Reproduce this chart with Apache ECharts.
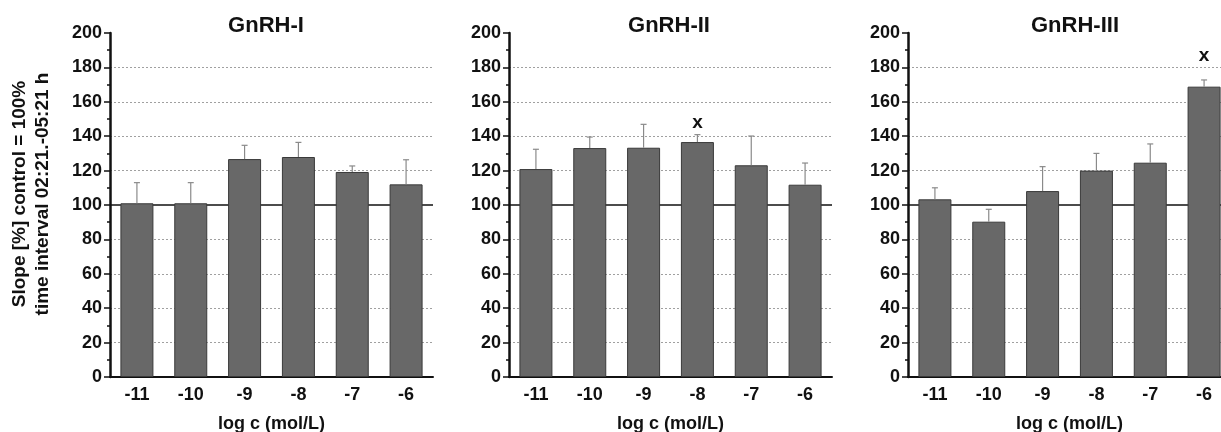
<!DOCTYPE html>
<html>
<head>
<meta charset="utf-8">
<script src="https://cdn.jsdelivr.net/npm/echarts@6/dist/echarts.min.js"></script>
<style>
  html, body { margin: 0; padding: 0; background: #fff; overflow: hidden; }
  #chart { width: 1221px; height: 432px; }
</style>
</head>
<body>
<div id="chart"></div>
<script>
// log concentration categories
var concentrations = ['-11', '-10', '-9', '-8', '-7', '-6'];
var yTicks = [0, 20, 40, 60, 80, 100, 120, 140, 160, 180, 200];

// slope in % of control, mean and upper error
var gnrh1Mean = [101, 101, 126.7, 127.9, 119.2, 112];
var gnrh1Err  = [12, 12, 8, 8.5, 3.5, 14.3];
var gnrh2Mean = [120.9, 133.1, 133.3, 136.6, 123.1, 111.8];
var gnrh2Err  = [11.5, 6.4, 13.6, 4.3, 17, 12.6];
var gnrh3Mean = [103.3, 90.3, 108.1, 120, 124.6, 168.8];
var gnrh3Err  = [6.7, 7.2, 14.2, 10, 10.9, 3.9];

// significance marks
var gnrh1Sig = ['', '', '', '', '', ''];
var gnrh2Sig = ['', '', '', 'x', '', ''];
var gnrh3Sig = ['', '', '', '', '', 'x'];

var FONT = 'Liberation Sans, Arial, sans-serif';
var panels = [
  { title: 'GnRH-I',   mean: gnrh1Mean, err: gnrh1Err, sig: gnrh1Sig, left: 110, titleX: 261, sigGap: 14 },
  { title: 'GnRH-II',  mean: gnrh2Mean, err: gnrh2Err, sig: gnrh2Sig, left: 509, titleX: 664, sigGap: 12 },
  { title: 'GnRH-III', mean: gnrh3Mean, err: gnrh3Err, sig: gnrh3Sig, left: 908, titleX: 1070, sigGap: 24 }
];

// dotted grid, but none at 100 (solid reference line) and none at 200
var gridColors = yTicks.map(function (v) {
  return (v === 100 || v === 200 || v === 0) ? 'rgba(0,0,0,0)' : '#a0a0a0';
});

var grids = [], xAxes = [], yAxes = [], titles = [], series = [];

panels.forEach(function (p, i) {
  grids.push({ left: p.left, top: 33, width: 323, height: 344, outerBoundsMode: 'none' });
  titles.push({
    text: p.title, left: p.titleX, top: 10, textAlign: 'center',
    textStyle: { fontFamily: FONT, fontSize: 22, fontWeight: 'bold', color: '#111' }
  });
  xAxes.push({
    type: 'category', gridIndex: i, data: concentrations,
    name: 'log c (mol/L)', nameLocation: 'middle', nameGap: 38,
    nameTextStyle: { fontFamily: FONT, fontSize: 18, fontWeight: 'bold', color: '#111' },
    axisLine: { lineStyle: { color: '#111', width: 2 } },
    axisTick: { alignWithLabel: true, length: 5, lineStyle: { color: '#111', width: 2 } },
    axisLabel: { margin: 9, fontFamily: FONT, fontSize: 18, fontWeight: 'bold', color: '#111' }
  });
  yAxes.push({
    type: 'value', gridIndex: i, min: 0, max: 200, interval: 20,
    axisLine: { show: true, lineStyle: { color: '#111', width: 2.5 } },
    axisTick: { show: true, length: 6, lineStyle: { color: '#111', width: 1.5 } },
    minorTick: { show: true, splitNumber: 2, length: 3, lineStyle: { color: '#111', width: 1.5 } },
    axisLabel: { margin: 8, fontFamily: FONT, fontSize: 18, fontWeight: 'bold', color: '#111' },
    splitLine: { show: true, lineStyle: { color: gridColors, type: [2, 2], width: 1 } }
  });

  series.push({
    type: 'bar', xAxisIndex: i, yAxisIndex: i, data: p.mean, barWidth: 33, z: 3,
    itemStyle: { color: '#686868', borderColor: '#3a3a3a', borderWidth: 1 },
    markLine: {
      silent: true, symbol: 'none', z: 1, label: { show: false },
      lineStyle: { color: '#111', width: 1.5, type: 'solid' },
      data: [{ yAxis: 100 }]
    }
  });

  series.push({
    type: 'custom', xAxisIndex: i, yAxisIndex: i, z: 4,
    data: p.mean.map(function (m, k) { return [k, m, p.err[k]]; }),
    renderItem: function (params, api) {
      var base = api.coord([api.value(0), api.value(1)]);
      var top = api.coord([api.value(0), api.value(1) + api.value(2)]);
      var s = { stroke: '#8a8a8a', lineWidth: 1.2 };
      return {
        type: 'group',
        children: [
          { type: 'line', shape: { x1: base[0], y1: base[1], x2: top[0], y2: top[1] }, style: s },
          { type: 'line', shape: { x1: top[0] - 3, y1: top[1], x2: top[0] + 3, y2: top[1] }, style: s }
        ]
      };
    }
  });

  series.push({
    type: 'custom', xAxisIndex: i, yAxisIndex: i, z: 5,
    data: p.sig.map(function (t, k) { return [k, p.mean[k] + p.err[k], t]; }),
    renderItem: function (params, api) {
      var pt = api.coord([api.value(0), api.value(1)]);
      var txt = p.sig[params.dataIndex];
      return {
        type: 'text', x: pt[0], y: pt[1] - p.sigGap,
        style: { text: txt, align: 'center', verticalAlign: 'middle',
                 font: 'bold 19px ' + FONT, fill: '#111' }
      };
    }
  });
});

var chart = echarts.init(document.getElementById('chart'));
chart.setOption({
  animation: false,
  backgroundColor: '#fff',
  title: titles,
  grid: grids,
  xAxis: xAxes,
  yAxis: yAxes,
  series: series,
  graphic: [{
    type: 'text', x: 31, y: 194, rotation: Math.PI / 2,
    style: {
      text: 'Slope [%] control = 100%\ntime interval 02:21.-05:21 h',
      align: 'center', verticalAlign: 'middle', lineHeight: 23,
      font: 'bold 19px ' + FONT, fill: '#111'
    }
  }]
});
</script>
</body>
</html>
